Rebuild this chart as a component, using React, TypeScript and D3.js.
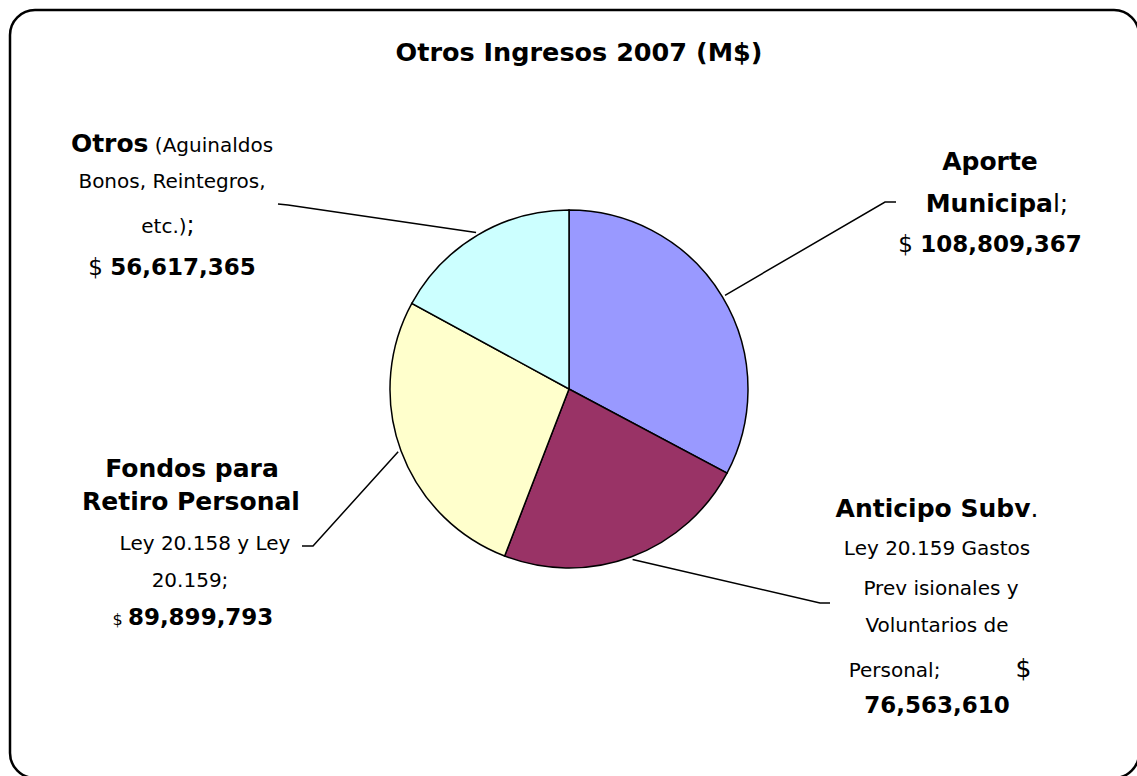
import React from "react";
import * as d3 from "d3";

const categories = ["Aporte Municipal", "Anticipo Subv.", "Fondos para Retiro Personal", "Otros"];
const values = [108809367, 76563610, 89899793, 56617365];
const colors = ["#9999FF", "#993366", "#FFFFCC", "#CCFFFF"];
const title = "Otros Ingresos 2007 (M$)";

const W = 1137;
const H = 776;
const FONT = "'DejaVu Sans', sans-serif";
const fmt = d3.format(",");

type Seg = { t: string; b?: boolean; s: number; dx?: number };
type Line = { x: number; y: number; segs: Seg[] };

const BW = 25; // bold words
const NUM = 23; // bold numbers
const REG = 20; // regular text

// label layout (positions only)
const labelLayout: { lines: (v: string) => Line[]; elbow: [number, number]; end: [number, number] }[] = [
  {
    lines: (v) => [
      { x: 990, y: 170, segs: [{ t: "Aporte", b: true, s: BW }] },
      { x: 997, y: 212, segs: [{ t: "Municipa", b: true, s: BW }, { t: "l;", s: BW }] },
      { x: 990, y: 252, segs: [{ t: "$ ", s: NUM }, { t: v, b: true, s: NUM }] },
    ],
    elbow: [885, 202],
    end: [896, 202],
  },
  {
    lines: (v) => [
      { x: 937, y: 517, segs: [{ t: "Anticipo Subv", b: true, s: BW }, { t: ".", s: BW }] },
      { x: 937, y: 555, segs: [{ t: "Ley 20.159 Gastos", s: REG }] },
      { x: 941, y: 595, segs: [{ t: "Prev isionales y", s: REG }] },
      { x: 937, y: 632, segs: [{ t: "Voluntarios de", s: REG }] },
      { x: 940, y: 677, segs: [{ t: "Personal;", s: REG }, { t: "$", s: 25, dx: 75 }] },
      { x: 937, y: 713, segs: [{ t: v, b: true, s: NUM }] },
    ],
    elbow: [820, 603],
    end: [830, 603],
  },
  {
    lines: (v) => [
      { x: 192, y: 477, segs: [{ t: "Fondos para", b: true, s: BW }] },
      { x: 191, y: 510, segs: [{ t: "Retiro Personal", b: true, s: BW }] },
      { x: 205, y: 550, segs: [{ t: "Ley 20.158 y Ley", s: REG }] },
      { x: 190, y: 587, segs: [{ t: "20.159;", s: REG }] },
      { x: 193, y: 625, segs: [{ t: "$ ", s: 16 }, { t: v, b: true, s: NUM }] },
    ],
    elbow: [313, 546],
    end: [302, 546],
  },
  {
    lines: (v) => [
      { x: 172, y: 152, segs: [{ t: "Otros", b: true, s: BW }, { t: " (Aguinaldos", s: REG }] },
      { x: 172, y: 188, segs: [{ t: "Bonos, Reintegros,", s: REG }] },
      { x: 168, y: 233, segs: [{ t: "etc.)", s: REG }, { t: ";", s: 24 }] },
      { x: 172, y: 275, segs: [{ t: "$ ", s: NUM }, { t: v, b: true, s: NUM }] },
    ],
    elbow: [288, 205],
    end: [278, 204],
  },
];

export default function App() {
  const cx = 569;
  const cy = 389;
  const r = 179;
  const pie = d3.pie<number>().sort(null).value((d) => d)(values);
  const arc = d3.arc<d3.PieArcDatum<number>>().innerRadius(0).outerRadius(r);
  const line = d3.line();

  return (
    <svg
      width={W}
      height={H}
      style={{ position: "absolute", left: 0, top: 0, background: "#fff" }}
      fontFamily={FONT}
    >
      <rect x={10} y={10} width={1129} height={768} rx={25} ry={25} fill="#fff" stroke="#000" strokeWidth={2.5} />
      <text x={579} y={61} textAnchor="middle" fontSize={25.5} fontWeight="bold" fill="#000">
        {title}
      </text>
      <g transform={`translate(${cx},${cy})`}>
        {pie.map((p, i) => (
          <path key={categories[i]} d={arc(p) || ""} fill={colors[i]} stroke="#000" strokeWidth={1.5} />
        ))}
      </g>
      {pie.map((p, i) => {
        const mid = (p.startAngle + p.endAngle) / 2;
        const rr = r + 3;
        const px = cx + rr * Math.sin(mid);
        const py = cy - rr * Math.cos(mid);
        const L = labelLayout[i];
        return (
          <g key={"lab" + i}>
            <path
              d={line([[px, py], L.elbow, L.end]) || ""}
              fill="none"
              stroke="#000"
              strokeWidth={1.5}
            />
            {L.lines(fmt(values[i])).map((ln, j) => (
              <text key={j} x={ln.x} y={ln.y} textAnchor="middle" fill="#000" style={{ whiteSpace: "pre" }}>
                {ln.segs.map((s, k) => (
                  <tspan key={k} fontSize={s.s} fontWeight={s.b ? "bold" : "normal"} dx={s.dx}>
                    {s.t}
                  </tspan>
                ))}
              </text>
            ))}
          </g>
        );
      })}
    </svg>
  );
}
